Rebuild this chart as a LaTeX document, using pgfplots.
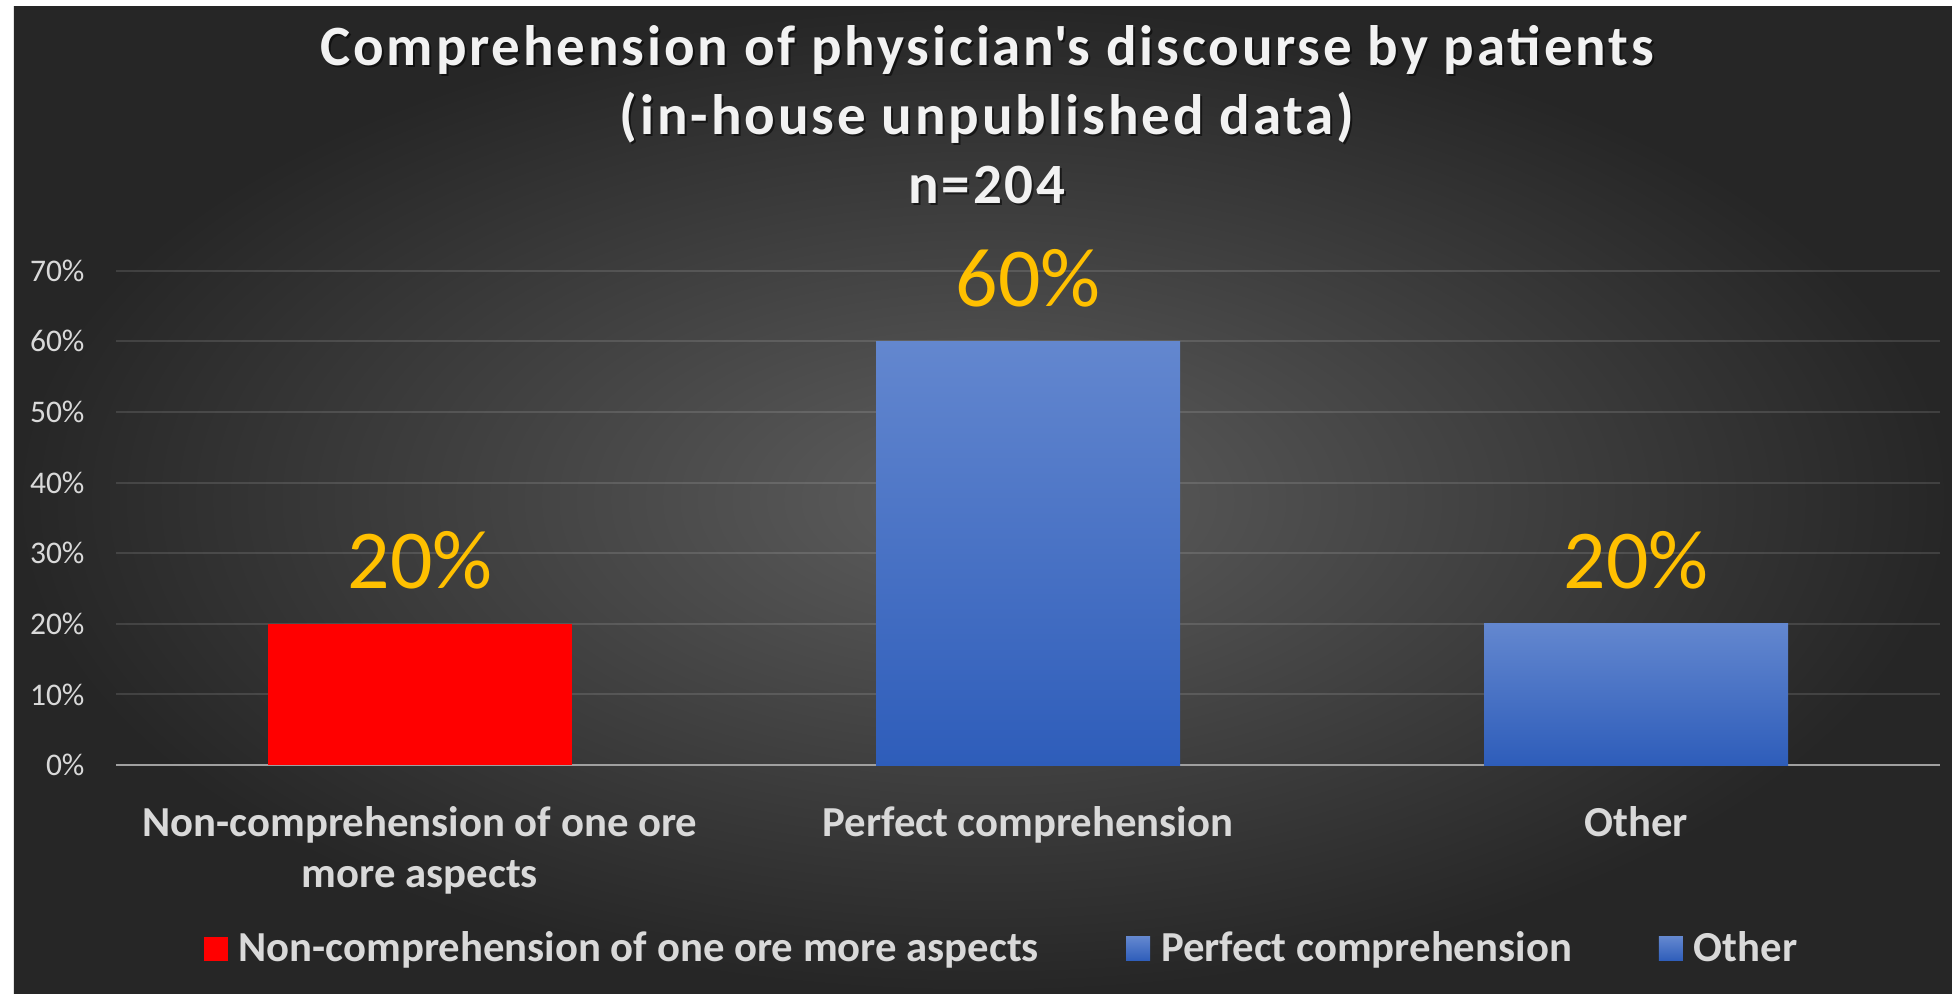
\documentclass[border=0pt]{standalone}
\usepackage{pgfplots}
\pgfplotsset{compat=1.18}
\usepackage{fontspec}
\setmainfont{Carlito}
\newfontfamily\titlefont[LetterSpace=5.0]{Carlito}
\definecolor{bgout}{HTML}{262626}
\definecolor{bgin}{HTML}{5E5E5E}
\definecolor{ticktext}{HTML}{D9D9D9}
\definecolor{titlewhite}{HTML}{F2F2F2}
\definecolor{labelgold}{HTML}{FFC000}
\definecolor{axisgray}{HTML}{A0A0A0}
\definecolor{redbar}{HTML}{FF0000}
\definecolor{bluetop}{HTML}{6387CF}
\definecolor{bluebot}{HTML}{2E5DBA}
\begin{document}
\begin{tikzpicture}
\useasboundingbox (-46.4pt,-91.2pt) rectangle (734.4pt,306pt);
\fill[white] (-46.4pt,-91.2pt) rectangle (734.4pt,306pt);
\shade[inner color=bgin, outer color=bgout] (-40.8pt,-91.2pt) rectangle (734.4pt,303.6pt);
\begin{axis}[
  scale only axis, width=729.6pt, height=197.7pt,
  at={(0pt,0pt)}, anchor=south west,
  clip=false,
  xmin=-0.5, xmax=2.5, ymin=0, ymax=70,
  xtick={0,1,2},
  xticklabels={{Non-comprehension of one ore\\more aspects},{Perfect comprehension},{Other}},
  xticklabel style={align=center, font=\fontsize{17.1}{20.4}\selectfont\bfseries, text=ticktext, anchor=north, inner sep=0pt, yshift=-12pt},
  ytick={0,10,20,30,40,50,60,70},
  yticklabels={0\%,10\%,20\%,30\%,40\%,50\%,60\%,70\%},
  yticklabel style={font=\fontsize{12.6}{15}\selectfont, text=ticktext, anchor=east, inner sep=0pt, xshift=-12.4pt},
  /pgf/number format/assume math mode=true,
  axis lines*=left,
  y axis line style={draw=none},
  x axis line style={draw=axisgray, line width=1pt, -},
  tick style={draw=none},
  ymajorgrids,
  major grid style={white, opacity=0.12, line width=0.8pt},
  ybar, bar width=121.6pt,
  nodes near coords={\pgfmathprintnumber{\pgfplotspointmeta}\%},
  every node near coord/.append style={font=\fontsize{33.5}{40}\selectfont, text=labelgold, anchor=base, yshift=14pt},
  legend columns=3,
  legend style={draw=none, fill=none, inner sep=0pt, at={(0.0477,-0.372)}, anchor=west,
    font=\fontsize{17.1}{20.4}\selectfont\bfseries, text=ticktext,
    nodes={inner sep=0pt},
    /tikz/every even column/.append style={column sep=34.8pt}},
  legend image code/.code={\fill[#1] (0pt,-4.8pt) rectangle (9.6pt,4.8pt); \path (14pt,0pt);},
]
\addplot[bar shift=0pt, draw=none, fill=redbar] coordinates {(0,20)};
\addlegendentry{Non-comprehension of one ore more aspects}
\addplot[bar shift=0pt, draw=none, top color=bluetop, bottom color=bluebot] coordinates {(1,60)};
\addlegendentry{Perfect comprehension}
\addplot[bar shift=0pt, draw=none, top color=bluetop, bottom color=bluebot] coordinates {(2,20)};
\addlegendentry{Other}
\end{axis}
\foreach \yy/\txt in {280pt/{Comprehension of physician\textquotesingle s discourse by patients}, 252.4pt/{(in-house unpublished data)}, 224.8pt/{n=204}} {
  \node[anchor=base, text=black, opacity=0.55, font=\titlefont\fontsize{22.8}{27}\selectfont\bfseries] at (349.2pt, \yy-0.8pt) {\txt};
  \node[anchor=base, text=titlewhite, font=\titlefont\fontsize{22.8}{27}\selectfont\bfseries] at (348.4pt, \yy) {\txt};
}
\end{tikzpicture}
\end{document}
